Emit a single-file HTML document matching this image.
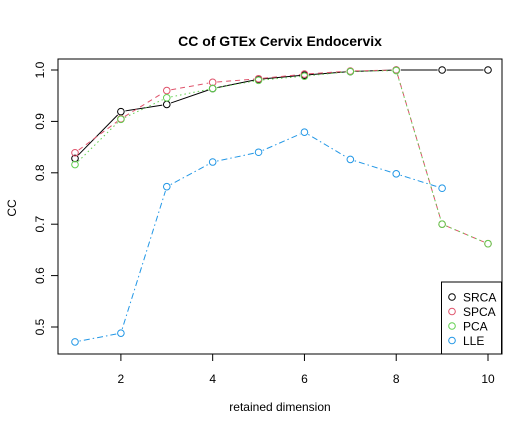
<!DOCTYPE html>
<html><head><meta charset="utf-8"><style>
body{margin:0;background:#fff}
svg{display:block;font-family:"Liberation Sans",Arial,sans-serif}
</style></head><body>
<svg id="chart" width="532" height="428">
<text x="280" y="46" text-anchor="middle" font-weight="bold" font-size="14">CC of GTEx Cervix Endocervix</text>
<rect x="58" y="59" width="444" height="295" fill="none" stroke="#000"/>
<text x="280" y="411" text-anchor="middle" font-size="12">retained dimension</text>
<text transform="translate(16,208) rotate(-90)" text-anchor="middle" font-size="12">CC</text>
<g id="axes"></g>
<g id="series"></g>
<g>
<rect x="441.5" y="282" width="60" height="72" fill="#fff" stroke="#000"/>
</g>
<g id="legend-items"></g>
</svg>
<script>
const xValues=[1,2,3,4,5,6,7,8,9,10];
const srca=[0.828,0.919,0.933,0.964,0.982,0.990,0.997,1.0,1.0,1.0];
const spca=[0.839,0.905,0.960,0.976,0.983,0.992,0.998,1.0,0.700,0.662];
const pca=[0.816,0.904,0.946,0.964,0.980,0.988,0.997,0.999,0.700,0.662];
const lle=[0.471,0.488,0.773,0.821,0.840,0.879,0.826,0.798,0.770];
const xTicks=[2,4,6,8,10];
const yTicks=[0.5,0.6,0.7,0.8,0.9,1.0];
const seriesNames=["SRCA","SPCA","PCA","LLE"];
const NS="http://www.w3.org/2000/svg";
const X=v=>75+(v-1)*(488-75)/9;
const Y=v=>70+(1-v)*514;
function mk(tag,attrs,parent){const e=document.createElementNS(NS,tag);for(const k in attrs)e.setAttribute(k,attrs[k]);parent.appendChild(e);return e;}
const axes=document.getElementById('axes');
mk('line',{x1:X(2),x2:X(10),y1:354,y2:354,stroke:'#000'},axes);
xTicks.forEach(t=>{
  const l=mk('line',{x1:X(t),x2:X(t),y1:354,y2:361,stroke:'#000'},axes);
  
  
  const tx=mk('text',{x:X(t),y:383,'text-anchor':'middle','font-size':12},axes);tx.textContent=t;
  
  
});
mk('line',{x1:58,x2:58,y1:Y(0.5),y2:Y(1.0),stroke:'#000'},axes);
yTicks.forEach(t=>{
  const l=mk('line',{x1:51,x2:58,y1:Y(t),y2:Y(t),stroke:'#000'},axes);
  
  
  const tx=mk('text',{transform:`translate(44,${Y(t)}) rotate(-90)`,'text-anchor':'middle','font-size':12},axes);tx.textContent=t.toFixed(1);
  
  
});
const sg=document.getElementById('series');
const defs=[[srca,'#000','none'],[spca,'#DF536B','5 4'],[pca,'#61D04F','1.5 3'],[lle,'#2297E6','1.5 3 6 3']];
defs.forEach((d,i)=>{
  const [vals,col,dash]=d;
  const g=mk('g',{},sg);
  
  
  const pts=vals.map((v,j)=>[X(xValues[j]),Y(v)]);
  for(let j=0;j<pts.length-1;j++){
    const [x1,y1]=pts[j],[x2,y2]=pts[j+1];
    const dx=x2-x1,dy=y2-y1,len=Math.hypot(dx,dy);
    if(len<9)continue;
    const ux=dx/len*4.5,uy=dy/len*4.5;
    mk('line',{x1:x1+ux,y1:y1+uy,x2:x2-ux,y2:y2-uy,stroke:col,'stroke-dasharray':dash},g);
  }
  pts.forEach(p=>{
    const c=mk('circle',{cx:p[0],cy:p[1],r:3.3,fill:'none',stroke:col},g);
    
    
  });
  const lg=document.getElementById('legend-items');
  const ly=297+i*14.5;
  const lc=mk('circle',{cx:452,cy:ly,r:3.3,fill:'none',stroke:col},lg);
  
  
  const lt=mk('text',{x:463,y:ly+4.5,'font-size':12},lg);lt.textContent=seriesNames[i];
  
  
});
</script>
</body></html>
